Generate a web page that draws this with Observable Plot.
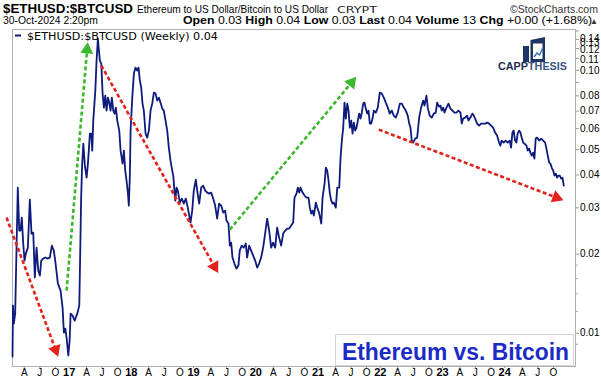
<!DOCTYPE html>
<html><head><meta charset="utf-8">
<script src="https://cdn.jsdelivr.net/npm/d3@7"></script>
<script src="https://cdn.jsdelivr.net/npm/@observablehq/plot@0.6"></script>
<style>
body{margin:0;background:#fff}
#wrap{position:relative;width:601px;height:378px;overflow:hidden;background:#fff;font-family:Arial,"Liberation Sans",sans-serif;color:#000}
#chart{position:absolute;left:0;top:28px}
#over{position:absolute;left:0;top:0;pointer-events:none}
</style></head><body>
<div id="wrap">
<div id="chart"></div>
<svg id="over" width="601" height="378" font-family="Arial, 'Liberation Sans', sans-serif">
  <text x="3" y="13" font-size="13.5" font-weight="bold" textLength="130" lengthAdjust="spacingAndGlyphs">$ETHUSD:$BTCUSD</text>
  <text x="137" y="13" font-size="10.1" textLength="191" lengthAdjust="spacingAndGlyphs">Ethereum to US Dollar/Bitcoin to US Dollar</text>
  <text x="337" y="13" font-size="9" font-family="'DejaVu Sans', Verdana, sans-serif" fill="#222" textLength="40" lengthAdjust="spacingAndGlyphs">CRYPT</text>
  <text x="510" y="13" font-size="10.2" fill="#333" textLength="88" lengthAdjust="spacingAndGlyphs">©StockCharts.com</text>
  <text x="3" y="24" font-size="10.3" textLength="95" lengthAdjust="spacingAndGlyphs">30-Oct-2024 2:20pm</text>
  <text x="183" y="24" font-size="11" textLength="409" lengthAdjust="spacingAndGlyphs"><tspan font-weight="bold">Open</tspan> 0.03 <tspan font-weight="bold">High</tspan> 0.04 <tspan font-weight="bold">Low</tspan> 0.03 <tspan font-weight="bold">Last</tspan> 0.04 <tspan font-weight="bold">Volume</tspan> 13 <tspan font-weight="bold">Chg</tspan> +0.00 (+1.68%)</text>
  <text x="598" y="23.5" font-size="8" text-anchor="end" fill="#333">▲</text>
  <line x1="15" y1="35.5" x2="21" y2="35.5" stroke="#0e1a7c" stroke-width="2"/>
  <text x="27" y="39.5" font-size="10.5" font-family="'DejaVu Sans', Verdana, sans-serif" textLength="191" lengthAdjust="spacingAndGlyphs">$ETHUSD:$BTCUSD (Weekly) 0.04</text>
  <g>
    <rect x="523" y="46" width="6" height="16" fill="#1f3565"/>
    <polygon points="530.5,40 545,37 545,62 530.5,62" fill="#1f3565"/>
    <rect x="533" y="43.5" width="9.5" height="15.5" fill="#fff"/>
    <polyline points="534,57 537,53 539.5,55 542.5,48.5" fill="none" stroke="#2f6fb0" stroke-width="1.4"/>
    <text x="498" y="69.5" font-size="11" textLength="69" lengthAdjust="spacingAndGlyphs"><tspan font-weight="bold" fill="#1e2d52">CAPP</tspan><tspan fill="#3a557e" font-weight="600">THESIS</tspan></text>
  </g>
  <rect x="335.5" y="334.5" width="238" height="31" fill="#fff" stroke="#d4d4d4"/>
  <text x="569" y="360" text-anchor="end" font-size="23" font-weight="bold" fill="#1d2bc6" textLength="227" lengthAdjust="spacingAndGlyphs">Ethereum vs. Bitcoin</text>
</svg>
</div>
<script>
// Weekly ETH/BTC ratio, time as decimal year
const weekYear = [
2015.979,2015.987,2016.000,2016.022,2016.043,2016.064,2016.087,2016.107,2016.128,2016.151,
2016.172,2016.193,2016.225,2016.257,2016.284,2016.312,2016.337,2016.365,2016.392,2016.418,
2016.440,2016.472,2016.504,2016.536,2016.578,2016.610,2016.642,2016.670,2016.707,2016.750,
2016.782,2016.803,2016.826,2016.846,2016.874,2016.895,2016.911,2016.943,2016.975,2017.018,
2017.050,2017.063,2017.079,2017.095,2017.115,2017.140,2017.168,2017.189,2017.221,2017.243,
2017.259,2017.275,2017.308,2017.328,2017.349,2017.381,2017.404,2017.425,2017.446,2017.468,
2017.489,2017.510,2017.532,2017.553,2017.574,2017.597,2017.618,2017.638,2017.661,2017.693,
2017.714,2017.746,2017.767,2017.789,2017.810,2017.831,2017.847,2017.863,2017.875,2017.902,
2017.928,2017.955,2017.982,2018.003,2018.024,2018.046,2018.067,2018.088,2018.116,2018.143,
2018.169,2018.196,2018.223,2018.249,2018.276,2018.303,2018.329,2018.356,2018.384,2018.409,
2018.437,2018.464,2018.490,2018.517,2018.544,2018.561,2018.593,2018.614,2018.634,2018.667,
2018.699,2018.731,2018.763,2018.795,2018.838,2018.866,2018.891,2018.924,2018.946,2018.978,
2019.010,2019.042,2019.075,2019.107,2019.139,2019.171,2019.203,2019.235,2019.267,2019.299,
2019.332,2019.364,2019.396,2019.417,2019.449,2019.470,2019.492,2019.513,2019.545,2019.577,
2019.609,2019.630,2019.662,2019.695,2019.727,2019.749,2019.781,2019.813,2019.846,2019.878,
2019.910,2019.942,2019.974,2020.006,2020.038,2020.071,2020.103,2020.135,2020.167,2020.199,
2020.231,2020.263,2020.295,2020.328,2020.360,2020.392,2020.424,2020.456,2020.488,2020.509,
2020.541,2020.562,2020.585,2020.605,2020.638,2020.670,2020.702,2020.734,2020.755,2020.777,
2020.798,2020.819,2020.851,2020.874,2020.906,2020.938,2020.959,2020.991,2021.012,2021.034,
2021.055,2021.076,2021.099,2021.119,2021.140,2021.172,2021.195,2021.227,2021.248,2021.269,
2021.291,2021.312,2021.333,2021.356,2021.377,2021.397,2021.420,2021.441,2021.462,2021.484,
2021.505,2021.526,2021.548,2021.569,2021.590,2021.613,2021.634,2021.654,2021.677,2021.698,
2021.719,2021.741,2021.762,2021.783,2021.815,2021.847,2021.879,2021.911,2021.944,2021.976,
2022.008,2022.040,2022.072,2022.104,2022.136,2022.168,2022.201,2022.233,2022.265,2022.297,
2022.329,2022.352,2022.372,2022.393,2022.416,2022.448,2022.480,2022.512,2022.544,2022.577,
2022.597,2022.629,2022.650,2022.682,2022.715,2022.747,2022.779,2022.801,2022.833,2022.854,
2022.875,2022.898,2022.919,2022.951,2022.983,2023.015,2023.047,2023.079,2023.111,2023.144,
2023.176,2023.197,2023.219,2023.251,2023.283,2023.304,2023.336,2023.368,2023.389,2023.412,
2023.444,2023.476,2023.508,2023.540,2023.572,2023.605,2023.637,2023.669,2023.701,2023.733,
2023.765,2023.797,2023.818,2023.839,2023.871,2023.903,2023.936,2023.968,2023.990,2024.011,
2024.032,2024.054,2024.075,2024.096,2024.119,2024.140,2024.160,2024.183,2024.204,2024.236,
2024.257,2024.279,2024.300,2024.321,2024.343,2024.364,2024.385,2024.408,2024.440,2024.472,
2024.504,2024.536,2024.557,2024.578,2024.601,2024.621,2024.642,2024.665,2024.686,2024.707,
2024.729,2024.750,2024.771,2024.793,2024.814,2024.835
];
const ethBtc = [
0.00809,0.01263,0.01079,0.01177,0.02045,0.03551,0.02437,0.02437,0.02731,0.02175,
0.01874,0.01992,0.02099,0.03197,0.02373,0.02394,0.01615,0.02099,0.01717,0.01643,
0.01874,0.01907,0.01924,0.01907,0.01924,0.02137,0.02045,0.01825,0.01532,0.01441,
0.01241,0.00997,0.01033,0.00955,0.00816,0.00930,0.01177,0.01157,0.01108,0.01177,
0.01263,0.01874,0.03169,0.04305,0.05221,0.04305,0.03875,0.04381,0.05698,0.05698,
0.04910,0.06385,0.08304,0.1080,0.1310,0.1080,0.1052,0.08089,0.07155,0.07948,
0.06970,0.07810,0.07476,0.06970,0.07810,0.06970,0.06789,0.07155,0.06385,0.05850,
0.04910,0.04381,0.04910,0.04121,0.03775,0.03398,0.03033,0.03944,0.05850,0.07810,
0.09638,0.1016,0.09894,0.1016,0.09064,0.08525,0.07411,0.06970,0.05698,0.05502,
0.05850,0.06970,0.07411,0.08160,0.08089,0.07608,0.07810,0.07476,0.07093,0.06970,
0.06385,0.05850,0.05041,0.04498,0.04121,0.03944,0.03169,0.03551,0.03459,0.03114,
0.03225,0.03087,0.03225,0.02980,0.02614,0.02903,0.03459,0.03808,0.03459,0.03087,
0.03551,0.03613,0.03459,0.03398,0.03369,0.03398,0.03225,0.03033,0.02707,0.03087,
0.03033,0.02853,0.02903,0.02660,0.02591,0.02137,0.02194,0.01924,0.01825,0.01747,
0.01793,0.02045,0.02137,0.02099,0.02175,0.01924,0.02137,0.02045,0.01957,0.01874,
0.01763,0.01825,0.01924,0.02099,0.02373,0.02707,0.02437,0.02099,0.02194,0.02099,
0.02502,0.02291,0.02137,0.02373,0.02437,0.02480,0.02480,0.02546,0.02614,0.03253,
0.03369,0.03551,0.03398,0.03551,0.03398,0.03310,0.03253,0.03253,0.02980,0.02828,
0.02903,0.02779,0.03114,0.02980,0.02828,0.02591,0.03253,0.03677,0.04231,0.04121,
0.03775,0.03369,0.03169,0.03087,0.03114,0.02980,0.03551,0.03551,0.04618,0.05359,
0.06006,0.07476,0.06498,0.07411,0.06970,0.06006,0.06385,0.05698,0.06275,0.05850,
0.06006,0.06385,0.06789,0.06498,0.06849,0.07411,0.07476,0.07093,0.06789,0.06970,
0.06220,0.06220,0.06498,0.06970,0.06849,0.07155,0.08160,0.08089,0.07810,0.07476,
0.07155,0.06789,0.06970,0.06671,0.06555,0.06849,0.07411,0.07411,0.07155,0.06970,
0.06671,0.06220,0.06006,0.05359,0.05266,0.05454,0.05502,0.06555,0.07155,0.07608,
0.07282,0.07948,0.07155,0.06671,0.06555,0.06789,0.06849,0.07476,0.07218,0.07282,
0.06970,0.07155,0.06849,0.07155,0.07411,0.07093,0.06970,0.06849,0.06849,0.06970,
0.06849,0.06220,0.06498,0.06555,0.06671,0.06385,0.06555,0.06789,0.06671,0.06498,
0.06220,0.06112,0.06220,0.06220,0.06220,0.06275,0.06220,0.06112,0.06006,0.05748,
0.05599,0.05266,0.05130,0.05359,0.05266,0.05359,0.05266,0.05359,0.05041,0.05748,
0.05850,0.05359,0.05266,0.05698,0.05850,0.05748,0.05502,0.05266,0.05221,0.05130,
0.04910,0.04997,0.04824,0.04699,0.04824,0.04578,0.05454,0.05502,0.05359,0.05454,
0.05359,0.05266,0.04997,0.04699,0.04420,0.04381,0.04231,0.04121,0.03944,0.04014,
0.03875,0.03944,0.03944,0.03842,0.03875,0.03613
];
const yMajor = [0.01,0.02,0.03,0.04,0.05,0.06,0.07,0.08,0.09,0.10];
const yTop = [0.11,0.12,0.13,0.14];
const yMinor = [0.009,0.012,0.014,0.016,0.018];
const monthLabels = ["A","J","O"];
const yearLabels = ["17","18","19","20","21","22","23","24"];
// trend arrows: start point and arrowhead point (decimal year, ratio)
const arrowStart = [[2015.883,0.02731],[2016.846,0.01441],[2017.404,0.1034],[2019.470,0.02458],[2021.863,0.05901]];
const arrowHead  = [[2016.670,0.00859],[2017.176,0.1189],[2019.224,0.01778],[2021.425,0.08907],[2024.718,0.03253]];
const arrowKind  = ["down","up","down","up","down"];

const toDate = t => { const y = Math.floor(t); const s = Date.UTC(y,0,1), e = Date.UTC(y+1,0,1); return new Date(s + (t - y) * (e - s)); };
const data = weekYear.map((t, i) => ({date: toDate(t), v: ethBtc[i]}));
const xDomain = [toDate(2015.979), toDate(2025.023)];
const colors = {down: "#e3221c", up: "#3cb82c"};
const navy = "#0e1a7c";

const base = {
  width: 601, height: 350,
  marginLeft: 12, marginRight: 26, marginTop: 1, marginBottom: 12,
  x: {type: "utc", domain: xDomain},
  y: {type: "log", domain: [0.00741, 0.1418]},
  style: {background: "transparent", fontFamily: "Arial, 'Liberation Sans', sans-serif", fontSize: "10px", color: "#000", overflow: "visible"}
};
const probe = Plot.plot({...base, marks: []});
const sx = probe.scale("x"), sy = probe.scale("y");
const arrows = arrowStart.map((s, i) => {
  const h = arrowHead[i];
  const x0 = sx.apply(toDate(s[0])), y0 = sy.apply(s[1]);
  const x1 = sx.apply(toDate(h[0])), y1 = sy.apply(h[1]);
  return {x1: toDate(s[0]), y1: s[1], x2: toDate(h[0]), y2: h[1], color: colors[arrowKind[i]],
          angle: Math.atan2(x1 - x0, -(y1 - y0)) * 180 / Math.PI};
});

const monthTicks = d3.utcMonth.range(xDomain[0], xDomain[1]).filter(d => d.getUTCMonth() % 3 === 0 && d.getUTCMonth() !== 0);
const yearTicks = yearLabels.map(l => new Date(Date.UTC(2000 + +l, 0, 1)));
const topDy = [1, 1, 3.5, 7.4];

const marks = [
  Plot.frame({stroke: "#b0b0b0"}),
  Plot.axisY(yMajor, {anchor: "right", tickSize: 3, tickPadding: 1.5, tickFormat: d => d.toFixed(2), fontSize: 10, dy: 1, stroke: "#999", label: null}),
  Plot.axisY(yTop, {anchor: "right", tickSize: 3, tickFormat: () => "", stroke: "#999", label: null}),
  Plot.axisY(yMinor, {anchor: "right", tickSize: 2, tickFormat: () => "", stroke: "#aaa", label: null}),
  ...yTop.map((v, i) => Plot.text([v], {y: d => d, text: d => d.toFixed(2), frameAnchor: "right", textAnchor: "start", dx: 4.5, dy: topDy[i], fontSize: 10})),
  Plot.axisX(monthTicks, {anchor: "bottom", tickSize: 2, tickPadding: 0.5, tickFormat: d => monthLabels[d.getUTCMonth() / 3 - 1], fontSize: 10, dx: -5, stroke: "#999", label: null}),
  Plot.axisX(yearTicks, {anchor: "bottom", tickSize: 2, tickPadding: 0, tickFormat: (d, i) => yearLabels[i], fontSize: 11, fontWeight: "bold", dx: -7, stroke: "#999", label: null}),
  Plot.line(data, {x: "date", y: "v", stroke: navy, strokeWidth: 1.8}),
  ...arrows.map(a => Plot.link([a], {x1: "x1", y1: "y1", x2: "x2", y2: "y2", stroke: a.color, strokeWidth: 2.6, strokeDasharray: "4,2.5"})),
  ...arrows.map(a => Plot.dot([a], {x: "x2", y: "y2", symbol: "triangle", r: 4.8, fill: a.color, stroke: "none", rotate: a.angle}))
];
document.getElementById("chart").appendChild(Plot.plot({...base, marks}));
</script>
</body></html>
